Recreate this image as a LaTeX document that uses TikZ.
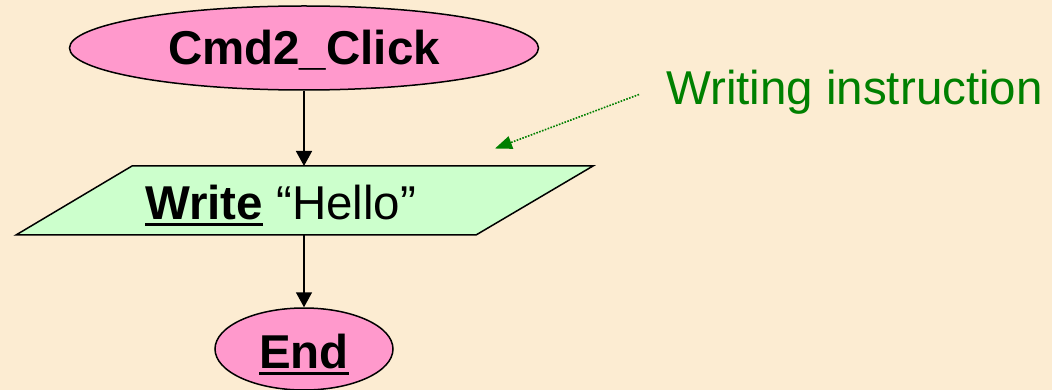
\documentclass[tikz,border=0pt]{standalone}
\usepackage{fontspec}
\setmainfont{Liberation Sans}
\usetikzlibrary{shapes.geometric,arrows.meta}
\definecolor{paper}{RGB}{252,236,210}
\definecolor{termpink}{RGB}{255,153,204}
\definecolor{iogreen}{RGB}{204,255,204}
\definecolor{notegreen}{RGB}{0,128,0}
% thick underline set a little below the baseline
\newcommand\ulword[1]{\setbox0\hbox{#1}\rlap{\rule[-7pt]{\wd0}{3.2pt}}\box0}
\begin{document}
\begin{tikzpicture}[x=1pt,y=-1pt,
  every node/.style={font=\fontsize{47.5}{57}\selectfont},
  terminal/.style={ellipse, draw, line width=1.5pt, fill=termpink, inner sep=0pt, text depth=0pt},
  iobox/.style={draw, line width=1.5pt, fill=iogreen, line join=miter},
  flow/.style={-{Triangle[length=15pt,width=16pt]}, line width=1.5pt},
  note/.style={draw=notegreen, dash pattern=on 1.6pt off 1.4pt, line width=1.6pt,
    -{Triangle[length=17pt,width=13pt,fill=notegreen]}}]
  \fill[paper] (0,0) rectangle (1052,390);
  \useasboundingbox (0,0) rectangle (1052,390);

  % start terminal
  \node[terminal, minimum width=469pt, minimum height=84pt, text height=34pt] (start) at (304,48) {\bfseries Cmd2\_Click};

  % output parallelogram
  \coordinate (wtl) at (132,166);
  \coordinate (wtr) at (593,166);
  \coordinate (wbr) at (476,235);
  \coordinate (wbl) at (16,235);
  \coordinate (win) at (304,166);
  \coordinate (wout) at (304,235);
  \filldraw[iobox] (wtl) -- (wtr) -- (wbr) -- (wbl) -- cycle;
  \node[anchor=base west, inner sep=0pt] (writetext) at (145,219) {{\bfseries\ulword{Write}} “Hello”};

  % end terminal
  \node[terminal, minimum width=178pt, minimum height=82pt, text height=38pt] (end) at (304,349) {\bfseries\ulword{End}};

  \draw[flow] (start.south) -- (win);
  \draw[flow] (wout) -- (end.north);

  % annotation
  \node[anchor=base west, inner sep=0pt, text=notegreen] (notetext) at (666,105) {Writing instruction};
  \coordinate (notefrom) at (639,94.5);
  \coordinate (noteto) at (495,148.5);
  \draw[note] (notefrom) -- (noteto);
\end{tikzpicture}
\end{document}
